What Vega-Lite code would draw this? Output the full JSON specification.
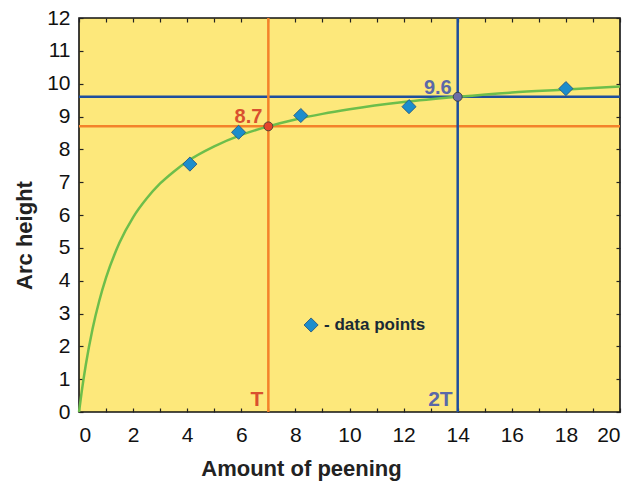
{
  "$schema": "https://vega.github.io/schema/vega-lite/v6.json",
  "width": 541,
  "height": 394,
  "autosize": "none",
  "padding": {"left": 79, "top": 18, "right": 24, "bottom": 70},
  "background": "white",
  "config": {
    "view": {"fill": "#FDE87B", "stroke": "#111111", "strokeWidth": 1.6},
    "font": "Liberation Sans",
    "axis": {"grid": false, "domain": false, "tickColor": "#222222", "tickSize": -4, "tickWidth": 1.2, "labelFont": "Liberation Sans", "labelFontSize": 21, "labelColor": "#111111", "titleFont": "Liberation Sans", "titleFontSize": 22, "titleFontWeight": "bold", "titleColor": "#222222"}
  },
  "datasets": {
    "curve": [
      {"x": 0, "y": 0}, {"x": 0.1, "y": 0.62}, {"x": 0.25, "y": 1.43}, {"x": 0.5, "y": 2.53}, {"x": 0.75, "y": 3.39}, {"x": 1, "y": 4.09}, {"x": 1.5, "y": 5.16}, {"x": 2, "y": 5.93}, {"x": 2.5, "y": 6.5}, {"x": 3, "y": 6.96}, {"x": 3.5, "y": 7.32}, {"x": 4, "y": 7.63}, {"x": 5, "y": 8.09}, {"x": 6, "y": 8.44}, {"x": 7, "y": 8.7}, {"x": 8, "y": 8.91}, {"x": 9, "y": 9.08}, {"x": 10, "y": 9.22}, {"x": 12, "y": 9.44}, {"x": 14, "y": 9.6}, {"x": 16, "y": 9.73}, {"x": 18, "y": 9.82}, {"x": 20, "y": 9.91}
    ],
    "points": [
      {"x": 4.1, "y": 7.55}, {"x": 5.9, "y": 8.52}, {"x": 8.2, "y": 9.03}, {"x": 12.2, "y": 9.3}, {"x": 18.0, "y": 9.85}
    ],
    "marks": [
      {"x": 7, "y": 8.7, "label": "8.7", "tick": "T", "series": "T"},
      {"x": 14, "y": 9.6, "label": "9.6", "tick": "2T", "series": "2T"}
    ],
    "legend": [{"x": 8.58, "y": 2.65, "label": "- data points"}]
  },
  "layer": [
    {
      "data": {"name": "curve"},
      "mark": {"type": "line", "color": "#6DBE4B", "strokeWidth": 2.5, "interpolate": "monotone", "opacity": 0},
      "encoding": {
        "x": {"field": "x", "type": "quantitative", "scale": {"domain": [0, 20], "nice": false},
          "axis": {"title": "Amount of peening", "values": [0,1,2,3,4,5,6,7,8,9,10,11,12,13,14,15,16,17,18,19,20], "labelExpr": "datum.value % 2 == 0 ? datum.label : ''", "labelPadding": 16, "titlePadding": 13, "titleX": 222}},
        "y": {"field": "y", "type": "quantitative", "scale": {"domain": [0, 12], "nice": false},
          "axis": {"title": "Arc height", "values": [0,1,2,3,4,5,6,7,8,9,10,11,12], "labelPadding": 13, "titlePadding": 10, "titleY": 217}}
      }
    },
    {
      "data": {"values": [{"x": 0, "y": 0}]},
      "mark": {"type": "point", "opacity": 0},
      "encoding": {
        "x": {"field": "x", "type": "quantitative", "scale": {"domain": [0, 20], "nice": false}, "axis": {"orient": "top", "title": null, "labels": false, "values": [0,1,2,3,4,5,6,7,8,9,10,11,12,13,14,15,16,17,18,19,20]}},
        "y": {"field": "y", "type": "quantitative", "scale": {"domain": [0, 12], "nice": false}, "axis": {"orient": "right", "title": null, "labels": false, "values": [0,1,2,3,4,5,6,7,8,9,10,11,12]}}
      }
    },
    {
      "data": {"name": "marks"},
      "mark": {"type": "rule", "strokeWidth": 2.5},
      "encoding": {
        "y": {"field": "y", "type": "quantitative", "scale": {"domain": [0, 12], "nice": false}, "axis": null},
        "color": {"field": "series", "type": "nominal", "scale": {"domain": ["T", "2T"], "range": ["#F4822A", "#1E4E9E"]}, "legend": null}
      }
    },
    {
      "data": {"name": "marks"},
      "mark": {"type": "rule", "strokeWidth": 2.5},
      "encoding": {
        "x": {"field": "x", "type": "quantitative", "scale": {"domain": [0, 20], "nice": false}, "axis": null},
        "color": {"field": "series", "type": "nominal", "scale": {"domain": ["T", "2T"], "range": ["#F4822A", "#1E4E9E"]}, "legend": null}
      }
    },
    {
      "data": {"name": "curve"},
      "mark": {"type": "line", "color": "#6DBE4B", "strokeWidth": 2.5, "interpolate": "monotone"},
      "encoding": {
        "x": {"field": "x", "type": "quantitative", "axis": null},
        "y": {"field": "y", "type": "quantitative", "axis": null}
      }
    },
    {
      "data": {"name": "points"},
      "mark": {"type": "point", "shape": "diamond", "filled": true, "size": 200, "color": "#1C8DCC", "stroke": "#1F4E79", "strokeWidth": 0.8, "opacity": 1},
      "encoding": {
        "x": {"field": "x", "type": "quantitative", "axis": null},
        "y": {"field": "y", "type": "quantitative", "axis": null}
      }
    },
    {
      "data": {"name": "marks"},
      "mark": {"type": "point", "shape": "circle", "filled": true, "size": 80, "stroke": "#333333", "strokeWidth": 0.8, "opacity": 1},
      "encoding": {
        "x": {"field": "x", "type": "quantitative", "axis": null},
        "y": {"field": "y", "type": "quantitative", "axis": null},
        "fill": {"field": "series", "type": "nominal", "scale": {"domain": ["T", "2T"], "range": ["#E5432D", "#6B6EA8"]}, "legend": null}
      }
    },
    {
      "data": {"name": "marks"},
      "mark": {"type": "text", "align": "right", "baseline": "alphabetic", "dx": -6, "dy": -3, "fontSize": 20, "fontWeight": "bold"},
      "encoding": {
        "x": {"field": "x", "type": "quantitative", "axis": null},
        "y": {"field": "y", "type": "quantitative", "axis": null},
        "text": {"field": "label"},
        "color": {"field": "series", "type": "nominal", "scale": {"domain": ["T", "2T"], "range": ["#D9502F", "#5A68A8"]}, "legend": null}
      }
    },
    {
      "data": {"name": "marks"},
      "mark": {"type": "text", "align": "right", "baseline": "alphabetic", "dx": -5, "dy": -6, "fontSize": 21, "fontWeight": "bold"},
      "encoding": {
        "x": {"field": "x", "type": "quantitative", "axis": null},
        "y": {"datum": 0, "type": "quantitative", "axis": null},
        "text": {"field": "tick"},
        "color": {"field": "series", "type": "nominal", "scale": {"domain": ["T", "2T"], "range": ["#D9502F", "#5A68A8"]}, "legend": null}
      }
    },
    {
      "data": {"name": "legend"},
      "mark": {"type": "point", "shape": "diamond", "filled": true, "size": 200, "color": "#1C8DCC", "stroke": "#1F4E79", "strokeWidth": 0.8, "opacity": 1},
      "encoding": {
        "x": {"field": "x", "type": "quantitative", "axis": null},
        "y": {"field": "y", "type": "quantitative", "axis": null}
      }
    },
    {
      "data": {"name": "legend"},
      "mark": {"type": "text", "align": "left", "baseline": "middle", "dx": 13, "fontSize": 17, "fontWeight": "bold", "color": "#1A2A35"},
      "encoding": {
        "x": {"field": "x", "type": "quantitative", "axis": null},
        "y": {"field": "y", "type": "quantitative", "axis": null},
        "text": {"field": "label"}
      }
    }
  ],
  "resolve": {"axis": {"x": "independent", "y": "independent"}, "scale": {"color": "independent"}}
}
